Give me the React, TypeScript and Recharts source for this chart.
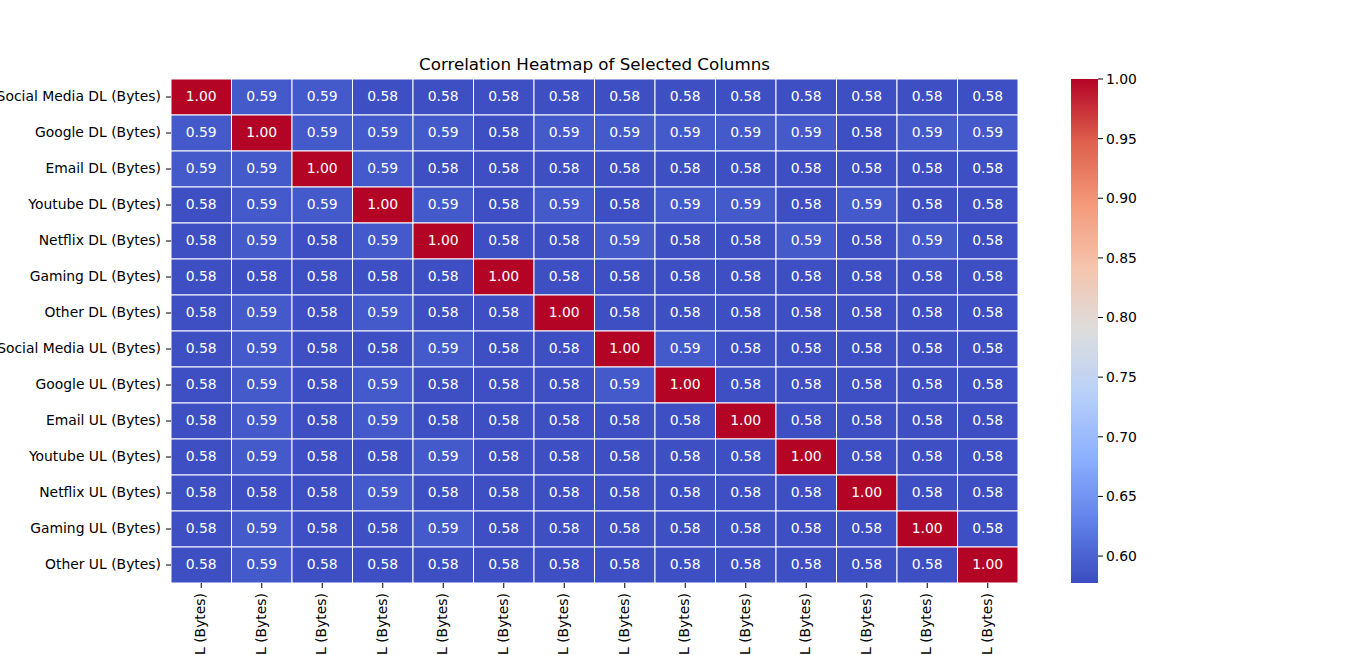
import React from "react";
import { Bar, BarChart, Scatter, ScatterChart, XAxis, YAxis } from "recharts";

const FONT = "DejaVu Sans";
const FS = 13.9;

const labels = [
  "Social Media DL (Bytes)",
  "Google DL (Bytes)",
  "Email DL (Bytes)",
  "Youtube DL (Bytes)",
  "Netflix DL (Bytes)",
  "Gaming DL (Bytes)",
  "Other DL (Bytes)",
  "Social Media UL (Bytes)",
  "Google UL (Bytes)",
  "Email UL (Bytes)",
  "Youtube UL (Bytes)",
  "Netflix UL (Bytes)",
  "Gaming UL (Bytes)",
  "Other UL (Bytes)",
];

// one row per label
const socialMediaDL = [1.0, 0.59, 0.59, 0.58, 0.58, 0.58, 0.58, 0.58, 0.58, 0.58, 0.58, 0.58, 0.58, 0.58];
const googleDL = [0.59, 1.0, 0.59, 0.59, 0.59, 0.58, 0.59, 0.59, 0.59, 0.59, 0.59, 0.58, 0.59, 0.59];
const emailDL = [0.59, 0.59, 1.0, 0.59, 0.58, 0.58, 0.58, 0.58, 0.58, 0.58, 0.58, 0.58, 0.58, 0.58];
const youtubeDL = [0.58, 0.59, 0.59, 1.0, 0.59, 0.58, 0.59, 0.58, 0.59, 0.59, 0.58, 0.59, 0.58, 0.58];
const netflixDL = [0.58, 0.59, 0.58, 0.59, 1.0, 0.58, 0.58, 0.59, 0.58, 0.58, 0.59, 0.58, 0.59, 0.58];
const gamingDL = [0.58, 0.58, 0.58, 0.58, 0.58, 1.0, 0.58, 0.58, 0.58, 0.58, 0.58, 0.58, 0.58, 0.58];
const otherDL = [0.58, 0.59, 0.58, 0.59, 0.58, 0.58, 1.0, 0.58, 0.58, 0.58, 0.58, 0.58, 0.58, 0.58];
const socialMediaUL = [0.58, 0.59, 0.58, 0.58, 0.59, 0.58, 0.58, 1.0, 0.59, 0.58, 0.58, 0.58, 0.58, 0.58];
const googleUL = [0.58, 0.59, 0.58, 0.59, 0.58, 0.58, 0.58, 0.59, 1.0, 0.58, 0.58, 0.58, 0.58, 0.58];
const emailUL = [0.58, 0.59, 0.58, 0.59, 0.58, 0.58, 0.58, 0.58, 0.58, 1.0, 0.58, 0.58, 0.58, 0.58];
const youtubeUL = [0.58, 0.59, 0.58, 0.58, 0.59, 0.58, 0.58, 0.58, 0.58, 0.58, 1.0, 0.58, 0.58, 0.58];
const netflixUL = [0.58, 0.58, 0.58, 0.59, 0.58, 0.58, 0.58, 0.58, 0.58, 0.58, 0.58, 1.0, 0.58, 0.58];
const gamingUL = [0.58, 0.59, 0.58, 0.58, 0.59, 0.58, 0.58, 0.58, 0.58, 0.58, 0.58, 0.58, 1.0, 0.58];
const otherUL = [0.58, 0.59, 0.58, 0.58, 0.58, 0.58, 0.58, 0.58, 0.58, 0.58, 0.58, 0.58, 0.58, 1.0];

const matrix = [
  socialMediaDL, googleDL, emailDL, youtubeDL, netflixDL, gamingDL, otherDL,
  socialMediaUL, googleUL, emailUL, youtubeUL, netflixUL, gamingUL, otherUL,
];

const VMIN = 0.5774;
const VMAX = 1.0;
const cbTicks = [0.6, 0.65, 0.7, 0.75, 0.8, 0.85, 0.9, 0.95, 1.0];

// matplotlib coolwarm, sampled
const COOLWARM: [number, number, number][] = [
  [59, 76, 192],
  [98, 130, 234],
  [141, 176, 254],
  [184, 208, 249],
  [221, 221, 221],
  [245, 196, 173],
  [244, 154, 123],
  [222, 96, 77],
  [180, 4, 38],
];

function coolwarm(t: number) {
  const c = Math.max(0, Math.min(1, t)) * (COOLWARM.length - 1);
  const i = Math.min(Math.floor(c), COOLWARM.length - 2);
  const f = c - i;
  const a = COOLWARM[i];
  const b = COOLWARM[i + 1];
  const m = (k: number) => Math.round(a[k] + (b[k] - a[k]) * f);
  return `rgb(${m(0)},${m(1)},${m(2)})`;
}

const colorFor = (v: number) => coolwarm((v - VMIN) / (VMAX - VMIN));

// layout
const W = 1366;
const H = 655;
const PLOT_L = 171;
const PLOT_R = 1018;
const PLOT_T = 79;
const PLOT_B = 583;
const N = labels.length;
const CW = (PLOT_R - PLOT_L) / N;
const CH = (PLOT_B - PLOT_T) / N;

const cells = matrix.flatMap((row, r) => row.map((v, c) => ({ x: c + 0.5, y: r + 0.5, v })));
const centers = labels.map((_, i) => i + 0.5);

function HeatCell(props: any) {
  const { cx, cy, payload } = props;
  if (cx == null || cy == null) return null;
  return (
    <g>
      <rect
        x={cx - CW / 2}
        y={cy - CH / 2}
        width={CW}
        height={CH}
        fill={colorFor(payload.v)}
        stroke="#fff"
        strokeWidth={1}
      />
      <text
        x={cx}
        y={cy - 1}
        textAnchor="middle"
        dominantBaseline="central"
        fill="#fff"
        fontSize={FS}
        fontFamily={FONT}
      >
        {payload.v.toFixed(2)}
      </text>
    </g>
  );
}

function YTick(props: any) {
  const { x, y, payload } = props;
  return (
    <text x={x} y={y - 1} textAnchor="end" dominantBaseline="central" fill="#000" fontSize={FS} fontFamily={FONT}>
      {labels[Math.floor(payload.value)]}
    </text>
  );
}

function XTick(props: any) {
  const { x, y, payload } = props;
  return (
    <g transform={`translate(${x - 1},${y})`}>
      <text
        transform="rotate(-90)"
        textAnchor="end"
        dominantBaseline="central"
        fill="#000"
        fontSize={FS}
        fontFamily={FONT}
      >
        {labels[Math.floor(payload.value)]}
      </text>
    </g>
  );
}

const cbData = [{ name: "cb", range: [VMIN, VMAX] }];

export default function App() {
  return (
    <div style={{ position: "absolute", left: 0, top: 0, width: W, height: H, background: "#fff", overflow: "hidden" }}>
      <div
        style={{
          position: "absolute",
          left: PLOT_L,
          width: PLOT_R - PLOT_L,
          top: 56,
          textAlign: "center",
          fontFamily: FONT,
          fontSize: 16.7,
          lineHeight: 1,
          color: "#000",
          whiteSpace: "nowrap",
        }}
      >
        Correlation Heatmap of Selected Columns
      </div>
      <div style={{ position: "absolute", left: 0, top: 0 }}>
        <ScatterChart width={W} height={H} margin={{ top: PLOT_T, left: 0, right: W - PLOT_R, bottom: 0 }}>
          <XAxis
            type="number"
            dataKey="x"
            domain={[0, N]}
            ticks={centers}
            interval={0}
            height={H - PLOT_B}
            axisLine={false}
            tickLine={{ stroke: "#000", strokeWidth: 1 }}
            tickSize={5}
            tickMargin={5}
            tick={<XTick />}
            allowDataOverflow
          />
          <YAxis
            type="number"
            dataKey="y"
            domain={[0, N]}
            reversed
            ticks={centers}
            interval={0}
            width={PLOT_L}
            axisLine={false}
            tickLine={{ stroke: "#000", strokeWidth: 1 }}
            tickSize={5}
            tickMargin={5}
            tick={<YTick />}
            allowDataOverflow
          />
          <Scatter data={cells} shape={<HeatCell />} isAnimationActive={false} />
        </ScatterChart>
      </div>
      <div style={{ position: "absolute", left: 1000, top: 0 }}>
        <BarChart
          width={200}
          height={H}
          data={cbData}
          margin={{ top: PLOT_T, left: 71, right: 42, bottom: H - PLOT_B }}
          barCategoryGap={0}
        >
          <defs>
            <linearGradient id="cbGrad" x1="0" y1="1" x2="0" y2="0">
              {COOLWARM.map((_, i) => (
                <stop
                  key={i}
                  offset={`${(i / (COOLWARM.length - 1)) * 100}%`}
                  stopColor={coolwarm(i / (COOLWARM.length - 1))}
                />
              ))}
            </linearGradient>
          </defs>
          <XAxis dataKey="name" hide />
          <YAxis
            orientation="right"
            type="number"
            domain={[VMIN, VMAX]}
            ticks={cbTicks}
            interval={0}
            width={60}
            axisLine={false}
            tickLine={{ stroke: "#000", strokeWidth: 1 }}
            tickSize={5}
            tickMargin={3}
            tickFormatter={(v: number) => v.toFixed(2)}
            tick={{ fontSize: FS, fill: "#000", fontFamily: FONT }}
            allowDataOverflow
          />
          <Bar dataKey="range" fill="url(#cbGrad)" isAnimationActive={false} />
        </BarChart>
      </div>
    </div>
  );
}
